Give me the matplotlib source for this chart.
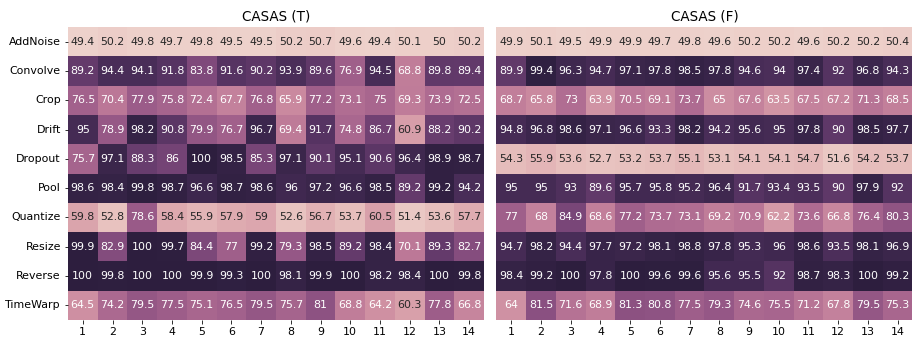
import matplotlib
matplotlib.use("Agg")
import matplotlib.pyplot as plt
import numpy as np
import seaborn as sns

augs = ["AddNoise", "Convolve", "Crop", "Drift", "Dropout", "Pool",
        "Quantize", "Resize", "Reverse", "TimeWarp"]
cols = list(range(1, 15))

casas_t = [
    [49.4, 50.2, 49.8, 49.7, 49.8, 49.5, 49.5, 50.2, 50.7, 49.6, 49.4, 50.1, 50, 50.2],
    [89.2, 94.4, 94.1, 91.8, 83.8, 91.6, 90.2, 93.9, 89.6, 76.9, 94.5, 68.8, 89.8, 89.4],
    [76.5, 70.4, 77.9, 75.8, 72.4, 67.7, 76.8, 65.9, 77.2, 73.1, 75, 69.3, 73.9, 72.5],
    [95, 78.9, 98.2, 90.8, 79.9, 76.7, 96.7, 69.4, 91.7, 74.8, 86.7, 60.9, 88.2, 90.2],
    [75.7, 97.1, 88.3, 86, 100, 98.5, 85.3, 97.1, 90.1, 95.1, 90.6, 96.4, 98.9, 98.7],
    [98.6, 98.4, 99.8, 98.7, 96.6, 98.7, 98.6, 96, 97.2, 96.6, 98.5, 89.2, 99.2, 94.2],
    [59.8, 52.8, 78.6, 58.4, 55.9, 57.9, 59, 52.6, 56.7, 53.7, 60.5, 51.4, 53.6, 57.7],
    [99.9, 82.9, 100, 99.7, 84.4, 77, 99.2, 79.3, 98.5, 89.2, 98.4, 70.1, 89.3, 82.7],
    [100, 99.8, 100, 100, 99.9, 99.3, 100, 98.1, 99.9, 100, 98.2, 98.4, 100, 99.8],
    [64.5, 74.2, 79.5, 77.5, 75.1, 76.5, 79.5, 75.7, 81, 68.8, 64.2, 60.3, 77.8, 66.8],
]

casas_f = [
    [49.9, 50.1, 49.5, 49.9, 49.9, 49.7, 49.8, 49.6, 50.2, 50.2, 49.6, 50.2, 50.2, 50.4],
    [89.9, 99.4, 96.3, 94.7, 97.1, 97.8, 98.5, 97.8, 94.6, 94, 97.4, 92, 96.8, 94.3],
    [68.7, 65.8, 73, 63.9, 70.5, 69.1, 73.7, 65, 67.6, 63.5, 67.5, 67.2, 71.3, 68.5],
    [94.8, 96.8, 98.6, 97.1, 96.6, 93.3, 98.2, 94.2, 95.6, 95, 97.8, 90, 98.5, 97.7],
    [54.3, 55.9, 53.6, 52.7, 53.2, 53.7, 55.1, 53.1, 54.1, 54.1, 54.7, 51.6, 54.2, 53.7],
    [95, 95, 93, 89.6, 95.7, 95.8, 95.2, 96.4, 91.7, 93.4, 93.5, 90, 97.9, 92],
    [77, 68, 84.9, 68.6, 77.2, 73.7, 73.1, 69.2, 70.9, 62.2, 73.6, 66.8, 76.4, 80.3],
    [94.7, 98.2, 94.4, 97.7, 97.2, 98.1, 98.8, 97.8, 95.3, 96, 98.6, 93.5, 98.1, 96.9],
    [98.4, 99.2, 100, 97.8, 100, 99.6, 99.6, 95.6, 95.5, 92, 98.7, 98.3, 100, 99.2],
    [64, 81.5, 71.6, 68.9, 81.3, 80.8, 77.5, 79.3, 74.6, 75.5, 71.2, 67.8, 79.5, 75.3],
]

cmap = sns.cubehelix_palette(as_cmap=True)

fig, axes = plt.subplots(1, 2, figsize=(918 / 72, 346 / 72), dpi=72)
fig.subplots_adjust(left=0.074, right=0.994, top=0.922, bottom=0.075, wspace=0.03)

for ax, data, title, show_y in zip(axes, [casas_t, casas_f], ["CASAS (T)", "CASAS (F)"], [True, False]):
    sns.heatmap(np.array(data), ax=ax, cmap=cmap, annot=True, fmt="g", cbar=False,
                xticklabels=cols, yticklabels=augs if show_y else False,
                annot_kws={"fontsize": 11})
    ax.set_title(title, fontsize=13.5)
    ax.tick_params(labelsize=11)
    if show_y:
        ax.set_yticklabels(ax.get_yticklabels(), rotation=0)

fig.savefig("out.png", dpi=72)
